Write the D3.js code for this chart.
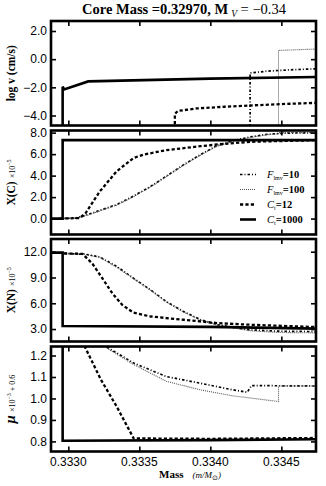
<!DOCTYPE html>
<html>
<head>
<meta charset="utf-8">
<script src="https://cdn.jsdelivr.net/npm/d3@7"></script>
<style>
  html, body { margin: 0; padding: 0; background: #fff; }
  svg { display: block; }
  .tick-label { font-family: "Liberation Sans", Arial, sans-serif; font-size: 12px; fill: #000; }
  .serif { font-family: "Liberation Serif", "Times New Roman", serif; fill: #000; }
</style>
</head>
<body>
<script>
// ---- data (mass in M_sun, value in panel units) ----
const massTicks = [0.3330, 0.3335, 0.3340, 0.3345];

// panel 1: log v (cm/s)
const logvTicks = [2.0, 0.0, -2.0, -4.0];
const logvFmv10 = [[0.33428, -5], [0.33428, -0.98], [0.3344, -0.85], [0.3346, -0.74], [0.33475, -0.68]];
const logvFmv100 = [[0.33448, -5], [0.33448, 0.62], [0.33475, 0.72]];
const logvCt12 = [[0.33375, -5], [0.33375, -3.9], [0.33377, -3.68], [0.3339, -3.5], [0.3341, -3.38], [0.3343, -3.28], [0.3345, -3.19], [0.33475, -3.1]];
const logvCt1000 = [[0.33296, -5], [0.33296, -1.95], [0.33297, -2.15], [0.33314, -1.58], [0.3340, -1.38], [0.33475, -1.27]];

// panel 2: X(C) x 1e-5
const xcTicks = [8.0, 6.0, 4.0, 2.0, 0.0];
const xcFmv10 = [[0.33294, 0], [0.33305, 0.05], [0.33312, 0.3], [0.33323, 0.8], [0.33334, 1.3], [0.33346, 2.1], [0.33358, 3.0], [0.33369, 3.95], [0.33381, 5.0], [0.33393, 5.95], [0.33404, 6.75], [0.33416, 7.25], [0.33428, 7.6], [0.33440, 7.85], [0.33452, 7.95], [0.33475, 8.0]];
const xcFmv100 = [[0.33294, 0], [0.33305, 0.05], [0.33312, 0.25], [0.33323, 0.75], [0.33334, 1.25], [0.33346, 2.05], [0.33358, 2.95], [0.33369, 3.9], [0.33381, 4.95], [0.33393, 5.9], [0.33404, 6.7], [0.33416, 7.2], [0.33428, 7.55], [0.33440, 7.8], [0.33448, 7.9], [0.33448, 8.0], [0.33475, 8.0]];
const xcCt12 = [[0.33294, 0], [0.33308, 0.05], [0.33312, 0.47], [0.33322, 2.5], [0.33334, 4.4], [0.33346, 5.65], [0.33353, 5.96], [0.33369, 6.37], [0.33393, 6.74], [0.33405, 6.9], [0.33428, 7.15], [0.33475, 7.3]];
const xcCt1000 = [[0.33288, 0], [0.33296, 0], [0.33296, 7.3], [0.33475, 7.3]];

// panel 3: X(N) x 1e-5
const xnTicks = [12.0, 9.0, 6.0, 3.0];
const xnFmv10 = [[0.33297, 11.8], [0.33312, 11.7], [0.33322, 11.4], [0.33334, 10.3], [0.33346, 8.9], [0.33358, 7.55], [0.33369, 6.2], [0.33381, 5.05], [0.33393, 4.1], [0.33405, 3.5], [0.33416, 3.2], [0.33428, 2.9], [0.33448, 2.75], [0.33475, 2.7]];
const xnFmv100 = [[0.33297, 11.8], [0.33312, 11.7], [0.33322, 11.35], [0.33334, 10.2], [0.33346, 8.85], [0.33358, 7.5], [0.33369, 6.15], [0.33381, 5.0], [0.33393, 4.05], [0.33405, 3.45], [0.33416, 3.15], [0.33428, 2.8], [0.33448, 2.6], [0.33475, 2.55]];
const xnCt12 = [[0.33297, 11.8], [0.33310, 11.75], [0.33317, 10.6], [0.33324, 8.9], [0.33331, 7.15], [0.33338, 5.8], [0.33346, 4.9], [0.33358, 4.46], [0.33381, 4.08], [0.33405, 3.69], [0.33428, 3.5], [0.33475, 3.23]];
const xnCt1000 = [[0.33288, 11.9], [0.33296, 11.9], [0.33296, 3.35], [0.3340, 3.25], [0.33475, 3.05]];

// panel 4: mu x 1e-3 + 0.6
const muTicks = [1.2, 1.1, 1.0, 0.9, 0.8];
const muFmv10 = [[0.33322, 1.30], [0.33327, 1.24], [0.33346, 1.165], [0.33369, 1.102], [0.33393, 1.071], [0.33416, 1.04], [0.33426, 1.029], [0.33429, 1.06], [0.33475, 1.058]];
const muFmv100 = [[0.33322, 1.29], [0.33327, 1.235], [0.33346, 1.158], [0.33369, 1.08], [0.33393, 1.04], [0.33416, 1.012], [0.33448, 0.986], [0.33448, 1.058], [0.33475, 1.058]];
const muCt12 = [[0.33308, 1.29], [0.33323, 1.087], [0.33334, 0.963], [0.33346, 0.814], [0.3340, 0.812], [0.33475, 0.816]];
const muCt1000 = [[0.33296, 1.3], [0.33296, 0.803], [0.3340, 0.806], [0.33475, 0.81]];

// ---- layout ----
const width = 326;
const height = 486;
const left = 51;
const right = 316;

const styles = {
  fmv10: { width: 1.7, dash: '2.5,2,1,2', color: '#000' },
  fmv100: { width: 1.1, dash: '1,1', color: '#555' },
  ct12: { width: 2.3, dash: '3.2,2.2', color: '#000' },
  ct1000: { width: 2.6, dash: null, color: '#000' }
};

const panels = [
  { top: 21, bottom: 125.5, domain: [-4.71, 2.71], ticks: logvTicks,
    series: [['fmv10', logvFmv10], ['fmv100', logvFmv100], ['ct12', logvCt12], ['ct1000', logvCt1000]] },
  { top: 130.5, bottom: 234.5, domain: [-1.48, 8.2], ticks: xcTicks,
    series: [['fmv10', xcFmv10], ['fmv100', xcFmv100], ['ct12', xcCt12], ['ct1000', xcCt1000]] },
  { top: 239, bottom: 341.5, domain: [1.55, 13.48], ticks: xnTicks,
    series: [['fmv10', xnFmv10], ['fmv100', xnFmv100], ['ct12', xnCt12], ['ct1000', xnCt1000]] },
  { top: 346.5, bottom: 451.5, domain: [0.753, 1.242], ticks: muTicks,
    series: [['fmv10', muFmv10], ['fmv100', muFmv100], ['ct12', muCt12], ['ct1000', muCt1000]] }
];

const svg = d3.select('body')
  .append('svg')
    .attr('width', width)
    .attr('height', height);

const x = d3.scaleLinear()
  .domain([0.332878, 0.334744])
  .range([left, right]);

panels.forEach((p, i) => {
  const y = d3.scaleLinear().domain(p.domain).range([p.bottom, p.top]);
  const clipId = 'clip' + i;

  svg.append('clipPath').attr('id', clipId)
    .append('rect')
      .attr('x', left).attr('y', p.top)
      .attr('width', right - left).attr('height', p.bottom - p.top);

  const line = d3.line()
    .x((d) => x(d[0]))
    .y((d) => y(d[1]));

  const g = svg.append('g').attr('clip-path', 'url(#' + clipId + ')');
  p.series.forEach(([key, data]) => {
    const s = styles[key];
    g.append('path')
      .datum(data)
      .attr('d', line)
      .attr('fill', 'none')
      .attr('stroke', s.color)
      .attr('stroke-width', s.width)
      .attr('stroke-dasharray', s.dash);
  });

  // inward ticks on all four sides
  svg.append('g')
    .attr('transform', 'translate(' + left + ',0)')
    .call(d3.axisRight(y).tickValues(p.ticks).tickSize(5).tickFormat(''))
    .call((a) => a.select('.domain').remove());
  svg.append('g')
    .attr('transform', 'translate(' + right + ',0)')
    .call(d3.axisLeft(y).tickValues(p.ticks).tickSize(5).tickFormat(''))
    .call((a) => a.select('.domain').remove());
  svg.append('g')
    .attr('transform', 'translate(0,' + p.top + ')')
    .call(d3.axisBottom(x).tickValues(massTicks).tickSize(5).tickFormat(''))
    .call((a) => a.select('.domain').remove());
  svg.append('g')
    .attr('transform', 'translate(0,' + p.bottom + ')')
    .call(d3.axisTop(x).tickValues(massTicks).tickSize(5).tickFormat(''))
    .call((a) => a.select('.domain').remove());
  svg.selectAll('.tick line').attr('stroke-width', 1.6);

  // y tick labels
  svg.append('g').selectAll('text')
    .data(p.ticks)
    .enter().append('text')
      .attr('class', 'tick-label')
      .attr('x', left - 4)
      .attr('y', (d) => y(d))
      .attr('dy', '0.36em')
      .attr('text-anchor', 'end')
      .text(d3.format('.1f'));

  // frame
  svg.append('rect')
    .attr('x', left).attr('y', p.top)
    .attr('width', right - left).attr('height', p.bottom - p.top)
    .attr('fill', 'none')
    .attr('stroke', '#000')
    .attr('stroke-width', 2.6);
});

// x tick labels
svg.append('g').selectAll('text')
  .data(massTicks)
  .enter().append('text')
    .attr('class', 'tick-label')
    .attr('x', (d) => x(d))
    .attr('y', 466)
    .attr('text-anchor', 'middle')
    .text(d3.format('.4f'));

// title
const title = svg.append('text')
  .attr('class', 'serif')
  .attr('x', 184)
  .attr('y', 14)
  .attr('text-anchor', 'middle')
  .attr('font-size', 14.5)
  .attr('font-weight', 'bold');
title.append('tspan').text('Core Mass =0.32970, M');
title.append('tspan').attr('font-size', 9.5).attr('font-style', 'italic').attr('font-weight', 'normal').attr('dy', 3).attr('dx', 3).text('V');
title.append('tspan').attr('dy', -3).attr('font-weight', 'normal').text(' = \u22120.34');

// y axis labels
function yLabel (p, build) {
  const t = svg.append('text')
    .attr('class', 'serif')
    .attr('text-anchor', 'middle')
    .attr('transform', 'translate(15,' + ((p.top + p.bottom) / 2) + ') rotate(-90)');
  build(t);
}

yLabel(panels[0], (t) => {
  t.append('tspan').attr('font-size', 11.5).attr('font-weight', 'bold').text('log v (cm/s)');
});
yLabel(panels[1], (t) => {
  t.append('tspan').attr('font-size', 11.5).attr('font-weight', 'bold').text('X(C)');
  t.append('tspan').attr('font-size', 8).attr('dx', 3).text('\u00d710');
  t.append('tspan').attr('font-size', 6).attr('dy', -4).text('\u22125');
});
yLabel(panels[2], (t) => {
  t.append('tspan').attr('font-size', 11.5).attr('font-weight', 'bold').text('X(N)');
  t.append('tspan').attr('font-size', 8).attr('dx', 3).text('\u00d710');
  t.append('tspan').attr('font-size', 6).attr('dy', -4).text('\u22125');
});
yLabel(panels[3], (t) => {
  t.append('tspan').attr('font-size', 15).attr('font-weight', 'bold').attr('font-style', 'italic').text('\u03bc');
  t.append('tspan').attr('font-size', 8).attr('dx', 3).text('\u00d710');
  t.append('tspan').attr('font-size', 6).attr('dy', -4).text('\u22123');
  t.append('tspan').attr('font-size', 8).attr('dy', 4).text(' + 0.6');
});

// x axis label
const xl = svg.append('text')
  .attr('class', 'serif')
  .attr('x', 190)
  .attr('y', 478)
  .attr('text-anchor', 'middle');
xl.append('tspan').attr('font-size', 11).attr('font-weight', 'bold').text('Mass');
xl.append('tspan').attr('font-size', 9).attr('dx', 9).attr('font-style', 'italic').text('(m/M');
xl.append('tspan').attr('font-size', 6.5).attr('dy', 2).text('\u2299');
xl.append('tspan').attr('font-size', 9).attr('dy', -2).attr('font-style', 'italic').text(')');

// legend in panel 2
const legendItems = [
  { key: 'fmv10', sym: 'F', sub: 'lmv', val: '=10' },
  { key: 'fmv100', sym: 'F', sub: 'lmv', val: '=100' },
  { key: 'ct12', sym: 'C', sub: 't', val: '=12' },
  { key: 'ct1000', sym: 'C', sub: 't', val: '=1000' }
];
const legend = svg.append('g');
legendItems.forEach((item, i) => {
  const ly = 174.5 + i * 15;
  const s = styles[item.key];
  legend.append('line')
    .attr('x1', 240).attr('x2', 256)
    .attr('y1', ly).attr('y2', ly)
    .attr('stroke', s.color)
    .attr('stroke-width', s.width)
    .attr('stroke-dasharray', s.dash);
  const t = legend.append('text')
    .attr('class', 'serif')
    .attr('x', 267)
    .attr('y', ly + 3.5)
    .attr('font-size', 10.5);
  t.append('tspan').attr('font-style', 'italic').text(item.sym);
  t.append('tspan').attr('font-size', 6).attr('dy', 2).text(item.sub);
  t.append('tspan').attr('dy', -2).attr('font-weight', 'bold').text(item.val);
});
</script>
</body>
</html>
